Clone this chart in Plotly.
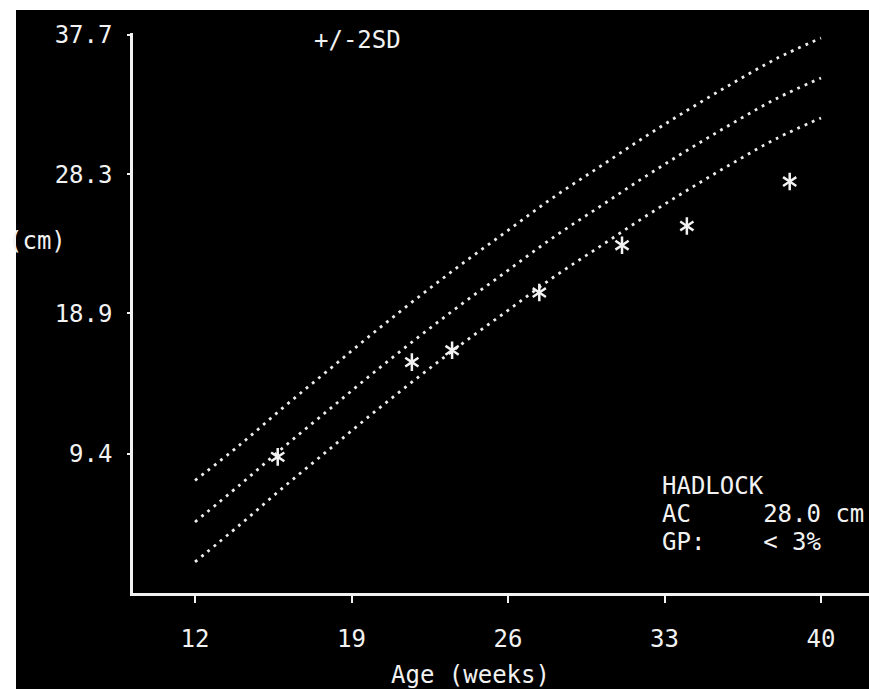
import plotly.graph_objects as go

# ---- data ----
weeks = [12, 14, 16, 18, 20, 22, 24, 26, 28, 30, 32, 34, 36, 38, 40]
ac_mean = [4.8, 7.3, 9.9, 12.4, 14.9, 17.3, 19.6, 21.8, 24.0, 26.0, 28.0, 29.9, 31.7, 33.4, 34.8]
ac_upper = [7.6, 10.0, 12.6, 15.1, 17.6, 20.0, 22.3, 24.5, 26.7, 28.7, 30.7, 32.6, 34.4, 36.1, 37.5]
ac_lower = [2.1, 4.6, 7.2, 9.7, 12.2, 14.6, 16.9, 19.1, 21.3, 23.3, 25.3, 27.2, 29.0, 30.7, 32.1]

exam_weeks = [15.7, 21.7, 23.5, 27.4, 31.1, 34.0, 38.6]
exam_ac = [9.2, 15.6, 16.4, 20.3, 23.5, 24.8, 27.8]

x_ticks = [12, 19, 26, 33, 40]
y_ticks = [9.4, 18.9, 28.3, 37.7]
y_ticktext = ["9.4", "18.9", "28.3", "37.7"]

FONT = "DejaVu Sans Mono"
FG = "#f2f2f2"
W, H = 869, 689
L, T, B = 133, 33, 96
PW, PH = W - L, H - T - B


def px(x):
    return (x - L) / PW


def py(y):
    return (H - B - y) / PH


fig = go.Figure()
for ys in (ac_upper, ac_mean, ac_lower):
    fig.add_trace(go.Scatter(
        x=weeks, y=ys, mode="lines", line_shape="spline",
        line=dict(color="#ececec", width=2.8, dash="2.8px,5.2px"),
        hoverinfo="skip", showlegend=False))

for sym in ("y-up-open", "y-down-open"):
    fig.add_trace(go.Scatter(
        x=exam_weeks, y=exam_ac, mode="markers",
        marker=dict(symbol=sym, size=11, color=FG, line=dict(color=FG, width=2.5)),
        showlegend=False))

fig.update_layout(
    width=W, height=H,
    margin=dict(l=L, r=0, t=T, b=B, pad=0),
    paper_bgcolor="white", plot_bgcolor="black",
    font=dict(family=FONT, size=24, color=FG),
    showlegend=False,
    shapes=[dict(type="rect", xref="paper", yref="paper",
                 x0=px(16), x1=1.0, y0=py(H), y1=py(10),
                 fillcolor="black", line=dict(width=0), layer="below")],
)

fig.update_xaxes(
    range=[9.227, 42.147], tickvals=x_ticks, ticktext=[str(v) for v in x_ticks],
    showline=True, linecolor=FG, linewidth=2.5, ticks="outside", ticklen=7,
    tickwidth=2, tickcolor=FG, showgrid=False, zeroline=False,
    ticklabelstandoff=15, tickfont=dict(family=FONT, size=24, color=FG))

fig.update_yaxes(
    range=[0, (H - B - T) / 14.8], tickvals=y_ticks, ticktext=y_ticktext,
    showline=True, linecolor=FG, linewidth=2.5, ticks="outside", ticklen=3,
    tickwidth=2, tickcolor=FG, showgrid=False, zeroline=False,
    ticklabelstandoff=10, tickfont=dict(family=FONT, size=24, color=FG))

ann = dict(xref="paper", yref="paper", showarrow=False,
           font=dict(family=FONT, size=24, color=FG), yanchor="middle")
NB = "\u00a0"
fig.add_annotation(text="+/-2SD", x=px(357), y=py(40), xanchor="center", **ann)
fig.add_annotation(text="(cm)", x=px(68), y=py(241), xanchor="right", **ann)
fig.add_annotation(text="Age (weeks)", x=px(470), y=py(675), xanchor="center", **ann)
fig.add_annotation(text="HADLOCK", x=px(660), y=py(486), xanchor="left", **ann)
fig.add_annotation(text="AC" + NB * 5 + "28.0" + NB + "cm", x=px(660), y=py(514), xanchor="left", **ann)
fig.add_annotation(text="GP:" + NB * 4 + "<" + NB + "3%", x=px(660), y=py(542), xanchor="left", **ann)

fig.write_html("out.html")
